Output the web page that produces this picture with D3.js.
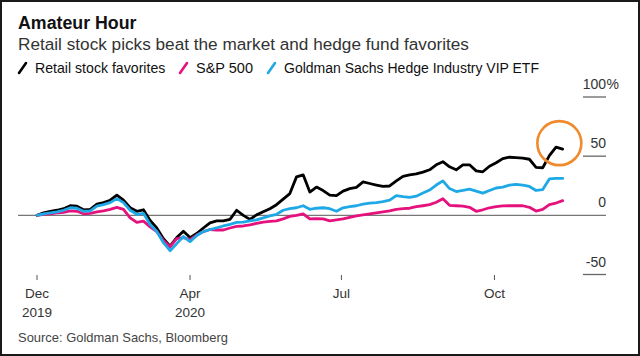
<!DOCTYPE html>
<html><head><meta charset="utf-8">
<script src="https://cdn.jsdelivr.net/npm/d3@7"></script>
<style>
html,body{margin:0;padding:0;background:#fff;}
svg{display:block;font-family:"Liberation Sans",Arial,sans-serif;}
</style></head><body>
<svg id="c" width="640" height="356"></svg>
<script>
const title = "Amateur Hour";
const subtitle = "Retail stock picks beat the market and hedge fund favorites";
const source = "Source: Goldman Sachs, Bloomberg";
const seriesNames = ["Retail stock favorites", "S&P 500", "Goldman Sachs Hedge Industry VIP ETF"];
const seriesColors = ["#000000", "#e5127d", "#1ea9e6"];
const startDate = "2019-12-31";
const stepDays = 4;
const retail = [0,2.1,3.4,4.3,5.6,8.1,7.7,4.7,5.1,9.4,10.7,12.8,17.1,12.8,6.4,3.4,4.7,-4.3,-10.7,-19.7,
  -26.1,-18.8,-13.4,-18.8,-15.4,-10.7,-6.4,-4.7,-4.7,-3.4,4.3,0,-3.4,0.4,3.0,5.6,9.0,13.7,18.4,32.5,
  34.2,19.7,23.9,20.9,17.1,16.7,20.5,22.6,23.7,28.2,26.9,25.6,24.4,24.8,29.1,32.9,34.2,35.0,36.5,38.5,
  42.7,45.3,41.0,38.5,42.7,42.7,37.6,36.8,41.5,44.4,47.9,49.1,48.7,48.3,47.4,40.6,40.2,50.4,57.7,56.0];
const sp500 = [0,0.9,1.3,2.1,2.6,3.8,3.4,1.3,1.7,3.0,3.8,5.1,6.8,5.1,-2.1,-6.0,-4.9,-9.8,-13.7,-21.4,
  -26.5,-19.7,-18.8,-20.5,-16.7,-13.7,-12.0,-12.4,-12.4,-10.7,-9.4,-9.0,-8.1,-6.8,-5.7,-5.1,-4.7,-3.0,-0.9,0,
  1.3,-3.0,-2.8,-3.0,-4.7,-3.8,-3.0,-1.7,-0.4,0.4,1.3,2.1,3.0,3.8,5.1,5.6,6.0,7.3,8.1,9.0,
  11.1,14.1,8.5,8.1,7.7,6.8,3.4,4.7,6.4,7.3,8.0,8.1,8.1,8.1,6.8,3.6,5.1,9.0,10.4,12.4];
const hedge = [0,1.3,2.1,3.0,4.3,6.4,6.0,3.4,3.8,7.7,9.0,10.7,14.1,10.7,4.3,0.9,1.7,-7.7,-13.7,-23.1,
  -29.9,-23.9,-17.9,-22.2,-17.1,-13.7,-12.0,-10.5,-9.0,-7.7,-6.0,-5.8,-4.7,-3.8,-2.1,-0.4,0.9,4.3,5.6,6.4,
  8.1,5.1,6.0,6.4,5.6,3.4,6.4,7.3,8.1,9.4,10.3,10.7,11.5,12.8,16.7,15.8,15.1,16.2,18.8,21.4,
  25.6,29.1,22.6,20.1,21.0,22.2,20.5,18.8,21.0,23.1,23.9,25.6,26.1,25.6,24.4,21.0,21.8,30.8,31.2,31.2];
const yTicks = [-50, 0, 50, 100];
const xTickDates = ["2019-12-31", "2020-04-01", "2020-07-01", "2020-10-01"];
const xTickLabels = [["Dec", "2019"], ["Apr", "2020"], ["Jul"], ["Oct"]];
const highlight = {date: "2020-11-09", value: 61};

const parse = d3.timeParse("%Y-%m-%d");
const t0 = parse(startDate);
const dates = retail.map((_, i) => d3.timeDay.offset(t0, i * stepDays));
const series = [retail, sp500, hedge];

const svg = d3.select("#c");
const x = d3.scaleTime().domain([t0, parse("2020-11-13")]).range([37, 566]);
const y = d3.scaleLinear().domain([-50, 100]).range([274.5, 97]);

// scale a text's font size so it spans the wanted width
function fit(sel, w) {
  const fs = +sel.attr("font-size");
  const len = sel.node().getComputedTextLength();
  if (len > 0) sel.attr("font-size", (fs * w / len).toFixed(2));
  return sel;
}

// frame
svg.append("rect").attr("x", 1).attr("y", 1).attr("width", 638).attr("height", 354)
  .attr("fill", "none").attr("stroke", "#1a1a1a").attr("stroke-width", 2);

// titles
fit(svg.append("text").attr("x", 18).attr("y", 29).attr("font-size", 16.5).attr("font-weight", "bold")
  .attr("fill", "#111").text(title), 118.5);
fit(svg.append("text").attr("x", 18).attr("y", 49.5).attr("font-size", 15.5).attr("fill", "#333").text(subtitle), 451);

// legend
const legendX = [18, 179, 267];
const legendW = [130.5, 57, 255];
seriesNames.forEach((n, i) => {
  const g = svg.append("g").attr("transform", `translate(${legendX[i]},0)`);
  g.append("line").attr("x1", 1).attr("y1", 73).attr("x2", 8).attr("y2", 63)
    .attr("stroke", seriesColors[i]).attr("stroke-width", 2.6).attr("stroke-linecap", "round");
  fit(g.append("text").attr("x", 17).attr("y", 73).attr("font-size", 14).attr("fill", "#111").text(n), legendW[i]);
});

// right axis
const yg = svg.append("g");
yTicks.forEach(v => {
  if (v === 0) {
    yg.append("line").attr("x1", 18).attr("x2", 606).attr("y1", y(v)).attr("y2", y(v))
      .attr("stroke", "#777").attr("stroke-width", 1.3);
  } else {
    yg.append("line").attr("x1", 583).attr("x2", 606).attr("y1", y(v)).attr("y2", y(v))
      .attr("stroke", "#666").attr("stroke-width", 1.3);
  }
  yg.append("text").attr("x", 606).attr("y", y(v) - 8).attr("text-anchor", "end")
    .attr("font-size", 14).attr("fill", "#333").text(v);
  if (v === 100) {
    yg.append("text").attr("x", 606.5).attr("y", y(v) - 8).attr("font-size", 14).attr("fill", "#333").text("%");
  }
});

// x axis
const xg = svg.append("g");
xTickDates.forEach((d, i) => {
  const px = x(parse(d));
  xg.append("line").attr("x1", px).attr("x2", px).attr("y1", 275).attr("y2", 280)
    .attr("stroke", "#555").attr("stroke-width", 1);
  xTickLabels[i].forEach((l, j) => {
    xg.append("text").attr("x", px).attr("y", 298 + j * 18.5).attr("text-anchor", "middle")
      .attr("font-size", 13.5).attr("fill", "#333").text(l);
  });
});

// lines
const line = d3.line().x((d, i) => x(dates[i])).y(d => y(d)).curve(d3.curveLinear);
series.forEach((s, i) => {
  svg.append("path").datum(s).attr("d", line).attr("fill", "none")
    .attr("stroke", seriesColors[i]).attr("stroke-width", 2.8)
    .attr("stroke-linejoin", "round").attr("stroke-linecap", "round");
});

// highlight circle
svg.append("circle").attr("cx", x(parse(highlight.date))).attr("cy", y(highlight.value)).attr("r", 22)
  .attr("fill", "none").attr("stroke", "#f08a2c").attr("stroke-width", 2.6);

// source
fit(svg.append("text").attr("x", 18).attr("y", 341.5).attr("font-size", 13).attr("fill", "#444").text(source), 210);
</script>
</body></html>
